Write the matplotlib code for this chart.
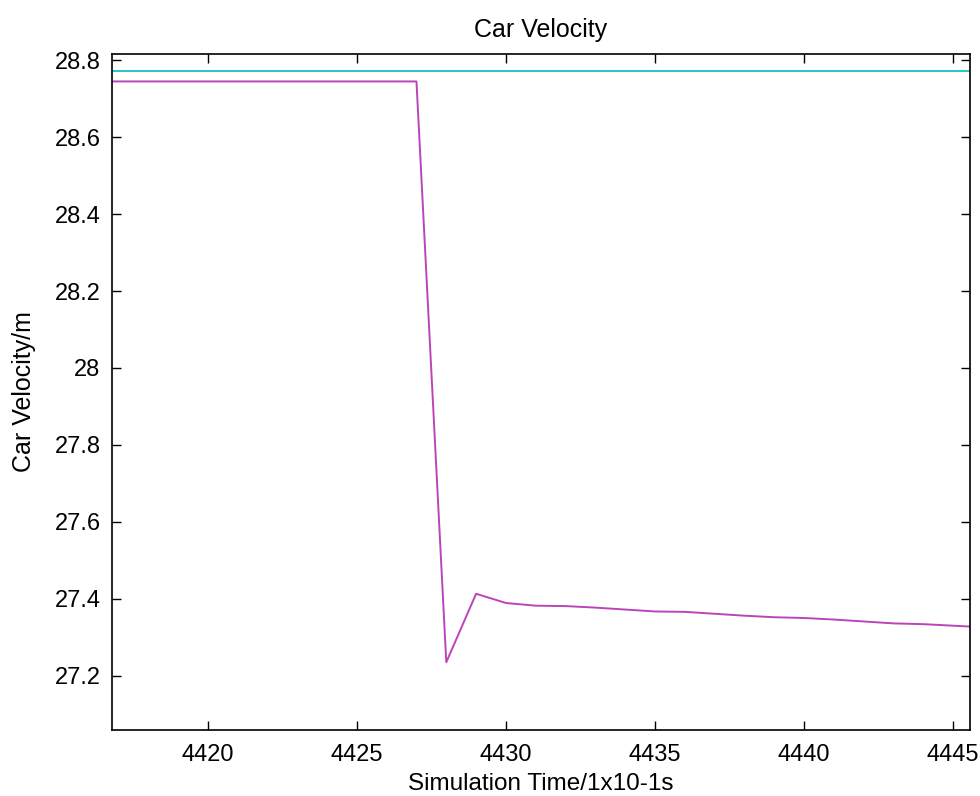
import numpy as np
import matplotlib.pyplot as plt

plt.rcParams['font.family'] = ['Liberation Sans', 'DejaVu Sans']

# simulation time steps (x 0.1 s)
time = [4416, 4417, 4418, 4419, 4420, 4421, 4422, 4423, 4424, 4425, 4426, 4427,
        4428, 4429, 4430, 4431, 4432, 4433, 4434, 4435, 4436, 4437, 4438, 4439,
        4440, 4441, 4442, 4443, 4444, 4445, 4446]
# velocity of the following car
velocity = [28.745, 28.745, 28.745, 28.745, 28.745, 28.745, 28.745, 28.745,
            28.745, 28.745, 28.745, 28.745,
            27.235, 27.413, 27.389, 27.382, 27.381, 27.377, 27.372, 27.367,
            27.366, 27.361, 27.356, 27.352, 27.350, 27.346, 27.341, 27.336,
            27.334, 27.330, 27.326]
# velocity of the leading car (constant)
lead_velocity = [28.771] * len(time)

fig = plt.figure(figsize=(9.8, 7.96), dpi=100)
ax = fig.add_axes([0.114, 0.083, 0.876, 0.849])

ax.plot(time, lead_velocity, color='#22c4c8', linewidth=1.4)
ax.plot(time, velocity, color='#bb44bb', linewidth=1.4)

ax.set_xlim(4416.78, 4445.57)
ax.set_ylim(27.059, 28.816)
ax.set_xticks([4420, 4425, 4430, 4435, 4440, 4445])
ax.set_yticks([27.2, 27.4, 27.6, 27.8, 28.0, 28.2, 28.4, 28.6, 28.8])
ax.set_yticklabels(['27.2', '27.4', '27.6', '27.8', '28', '28.2', '28.4', '28.6', '28.8'])

ax.tick_params(direction='in', length=6.5, width=1, top=True, right=True,
               labelsize=17, colors='black')
ax.tick_params(axis='x', pad=10)
ax.tick_params(axis='y', pad=8)
for s in ax.spines.values():
    s.set_linewidth(1.2)

ax.set_title('Car Velocity', fontsize=18, pad=12)
ax.set_xlabel('Simulation Time/1x10-1s', fontsize=17.5, labelpad=5)
ax.set_ylabel('Car Velocity/m', fontsize=18, labelpad=13)

fig.savefig('out.png', dpi=100)
